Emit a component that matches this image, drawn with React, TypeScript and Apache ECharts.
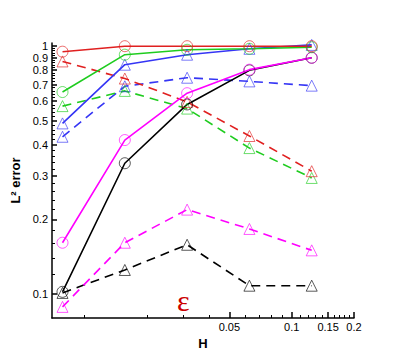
import React, { useEffect, useRef } from "react";
import * as echarts from "echarts";

const H = [0.0078125, 0.015625, 0.03125, 0.0625, 0.125];

const redSolid = [0.95, 1.0, 1.0, 1.0, 1.0];
const redDashed = [0.868, 0.74, 0.596, 0.434, 0.313];
const greenSolid = [0.653, 0.924, 0.967, 0.976, 0.99];
const greenDashed = [0.573, 0.66, 0.56, 0.388, 0.294];
const blueSolid = [0.488, 0.842, 0.924, 0.976, 1.012];
const blueDashed = [0.431, 0.689, 0.746, 0.721, 0.693];
const magentaSolid = [0.161, 0.418, 0.646, 0.804, 0.898];
const magentaDashed = [0.0887, 0.161, 0.219, 0.183, 0.15];
const blackSolid = [0.102, 0.337, 0.582, 0.799, 0.898];
const blackDashed = [0.101, 0.125, 0.158, 0.108, 0.108];

const xMajorTicks = [0.05, 0.1, 0.15, 0.2];
const xMajorLabels = ["0.05", "0.1", "0.15", "0.2"];
const xMinorTicks = [0.01, 0.02, 0.03, 0.04, 0.06, 0.07, 0.08, 0.09, 0.11, 0.12, 0.13, 0.14, 0.16, 0.17, 0.18, 0.19];

const yMajorTicks = [0.1, 0.2, 0.3, 0.4, 0.5, 0.6, 0.7, 0.8, 0.9, 1];
const yMajorLabels = ["0.1", "0.2", "0.3", "0.4", "0.5", "0.6", "0.7", "0.8", "0.9", "1"];
const yMinorTicks = [
  0.12, 0.14, 0.16, 0.18, 0.22, 0.24, 0.26, 0.28, 0.32, 0.34, 0.36, 0.38,
  0.42, 0.44, 0.46, 0.48, 0.52, 0.54, 0.56, 0.58, 0.62, 0.64, 0.66, 0.68,
  0.72, 0.74, 0.76, 0.78, 0.82, 0.84, 0.86, 0.88, 0.92, 0.94, 0.96, 0.98,
];

const X_MIN = 0.00695;
const X_MAX = 0.2001;
const Y_MIN = 0.08;
const Y_MAX = 1.03;

const RED = "#e02020";
const GREEN = "#1fcc1f";
const BLUE = "#3535f5";
const MAGENTA = "#ff00ff";
const BLACK = "#000000";

const FONT = "Liberation Sans, Arial, sans-serif";

function mk(name: string, vals: number[], color: string, dashed: boolean, symbol: string) {
  return {
    name,
    type: "line",
    xAxisIndex: 0,
    yAxisIndex: 0,
    data: H.map((h, i) => [h, vals[i]]),
    symbol,
    symbolSize: 11,
    showAllSymbol: true,
    lineStyle: { color, width: 1.6, type: dashed ? [9, 6] : "solid" },
    itemStyle: { color: "transparent", borderColor: color, borderWidth: 1, opacity: 0.65 },
    emphasis: { disabled: true },
    z: 3,
  };
}

export default function App() {
  const ref = useRef<HTMLDivElement>(null);
  useEffect(() => {
    if (!ref.current) return;
    const chart = echarts.init(ref.current, null, { renderer: "svg" });
    const axisLine = { show: true, lineStyle: { color: "#000", width: 1.5 } };
    chart.setOption({
      animation: false,
      backgroundColor: "#fff",
      grid: { left: 52, right: 49, top: 43, bottom: 41, containLabel: false },
      xAxis: [
        {
          type: "log",
          min: X_MIN,
          max: X_MAX,
          position: "bottom",
          name: "H",
          nameLocation: "middle",
          nameGap: 14,
          nameTextStyle: { fontFamily: FONT, fontWeight: "bold", fontSize: 13, color: "#000" },
          axisLine,
          axisTick: { show: true, inside: true, length: 6, customValues: xMajorTicks, lineStyle: { color: "#000", width: 1.5 } },
          axisLabel: {
            show: true,
            customValues: xMajorTicks,
            margin: 3,
            fontFamily: FONT,
            fontSize: 11,
            color: "#000",
            formatter: (v: number) => {
              const i = xMajorTicks.findIndex((t) => Math.abs(t - v) < 1e-9);
              return i >= 0 ? xMajorLabels[i] : "";
            },
          },
          splitLine: { show: false },
          minorTick: { show: false },
        },
        {
          type: "log",
          min: X_MIN,
          max: X_MAX,
          position: "bottom",
          axisLine: { show: false },
          axisTick: { show: true, inside: true, length: 3, customValues: xMinorTicks, lineStyle: { color: "#000", width: 1 } },
          axisLabel: { show: false },
          splitLine: { show: false },
        },
      ],
      yAxis: [
        {
          type: "log",
          min: Y_MIN,
          max: Y_MAX,
          position: "left",
          name: "L² error",
          nameLocation: "middle",
          nameGap: 22,
          nameTextStyle: { fontFamily: FONT, fontWeight: "bold", fontSize: 13, color: "#000" },
          axisLine,
          axisTick: { show: true, inside: true, length: 5, customValues: yMajorTicks, lineStyle: { color: "#000", width: 1.5 } },
          axisLabel: {
            show: true,
            customValues: yMajorTicks,
            margin: 4,
            fontFamily: FONT,
            fontSize: 11,
            color: "#000",
            formatter: (v: number) => {
              const i = yMajorTicks.findIndex((t) => Math.abs(t - v) < 1e-9);
              return i >= 0 ? yMajorLabels[i] : "";
            },
          },
          splitLine: { show: false },
        },
        {
          type: "log",
          min: Y_MIN,
          max: Y_MAX,
          position: "left",
          axisLine: { show: false },
          axisTick: { show: true, inside: true, length: 3, customValues: yMinorTicks, lineStyle: { color: "#000", width: 1 } },
          axisLabel: { show: false },
          splitLine: { show: false },
        },
      ],
      graphic: [
        {
          type: "text",
          left: 177,
          top: 285,
          style: { text: "ε", fill: "#cc0000", font: "30px 'Liberation Serif', serif" },
        },
      ],
      series: [
        mk("black dashed", blackDashed, BLACK, true, "triangle"),
        mk("magenta dashed", magentaDashed, MAGENTA, true, "triangle"),
        mk("blue dashed", blueDashed, BLUE, true, "triangle"),
        mk("green dashed", greenDashed, GREEN, true, "triangle"),
        mk("red dashed", redDashed, RED, true, "triangle"),
        mk("black solid", blackSolid, BLACK, false, "circle"),
        mk("magenta solid", magentaSolid, MAGENTA, false, "circle"),
        mk("blue solid", blueSolid, BLUE, false, "triangle"),
        mk("green solid", greenSolid, GREEN, false, "circle"),
        mk("red solid", redSolid, RED, false, "circle"),
      ],
    });
    return () => chart.dispose();
  }, []);
  return <div ref={ref} style={{ width: 403, height: 359, position: "absolute", left: 0, top: 0 }} />;
}
